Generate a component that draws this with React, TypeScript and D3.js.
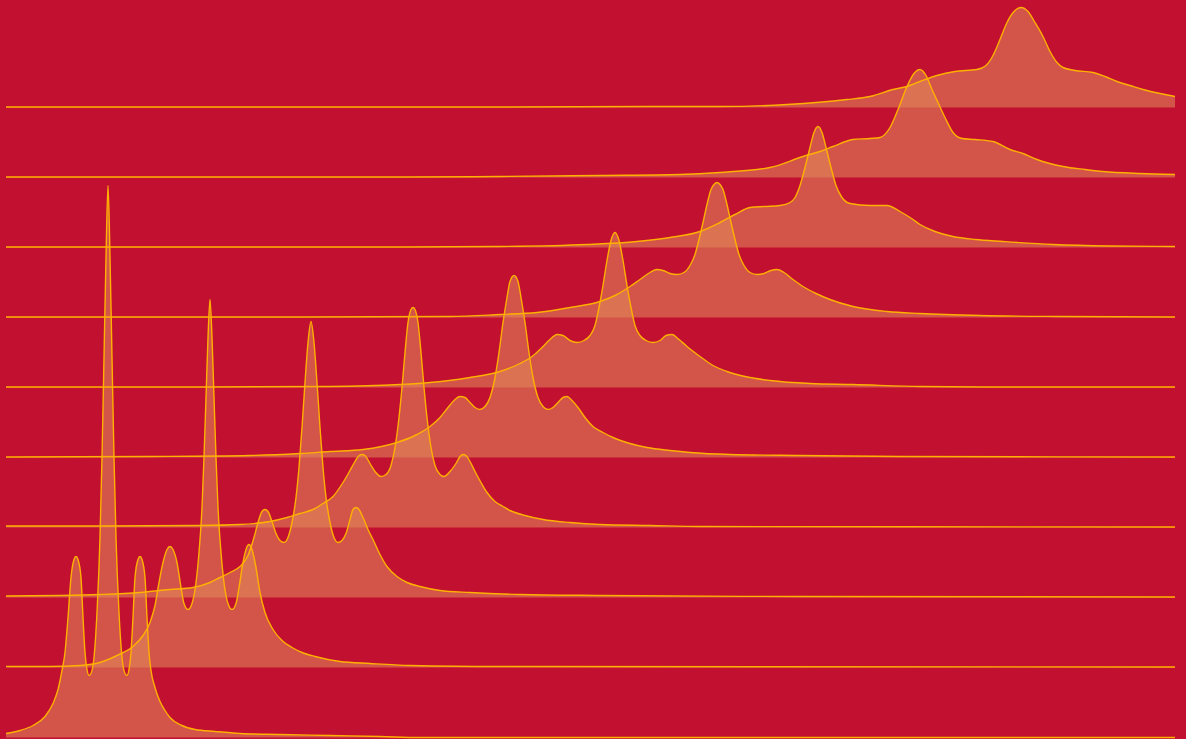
import React from "react";
import * as d3 from "d3";

const W = 1186;
const H = 739;

// ridge names, bottom to top
const ridgeNames = ["r0", "r1", "r2", "r3", "r4", "r5", "r6", "r7", "r8", "r9"];

// [position, height]
const ridge0: [number, number][] = [
  [6, 4], [20, 7], [33, 12], [45, 21], [53, 34], [58, 48], [62, 67], [65, 85], [68, 120], [71, 160], [74, 178], [76, 181],
  [78, 178], [81, 160], [83, 120], [85, 85], [87, 68], [89, 62], [91, 64], [94, 80], [97, 125], [100, 200], [102, 280],
  [104, 380], [106, 480], [108, 552], [110, 480], [112, 380], [114, 280], [116, 200], [119, 125], [122, 80], [125, 64],
  [127, 62], [129, 68], [131, 85], [133, 120], [135, 160], [138, 178], [140, 181], [142, 178], [145, 160], [147, 120],
  [149, 85], [151, 67], [155, 50], [160, 36], [165, 27], [170, 20], [182, 12], [195, 8], [215, 6], [240, 4], [280, 3],
  [330, 2], [380, 1], [420, 0], [1175, 0],
];
const ridge1: [number, number][] = [
  [6, 1], [50, 1], [80, 2], [100, 5], [117, 12], [133, 21], [143, 32], [150, 45], [155, 62], [159, 85], [163, 105],
  [167, 118], [170, 121], [173, 118], [177, 105], [181, 80], [184, 64], [188, 58], [192, 64], [196, 85], [199, 115],
  [202, 160], [204, 210], [206, 270], [208, 330], [210, 368], [212, 330], [214, 270], [216, 210], [218, 160], [221, 115],
  [224, 85], [228, 64], [232, 58], [236, 64], [239, 80], [243, 105], [246, 118], [249, 123], [252, 118], [256, 100],
  [260, 75], [265, 55], [273, 38], [282, 27], [292, 20], [302, 15], [315, 11], [340, 6], [370, 4], [410, 2], [500, 1],
  [1175, 0.5],
];
const ridge2: [number, number][] = [
  [6, 1.5], [60, 2], [100, 3], [140, 5], [170, 8], [193, 10], [210, 15], [220, 20], [230, 25], [240, 31], [248, 42],
  [254, 60], [258, 75], [262, 86], [265, 88], [268, 86], [272, 76], [276, 64], [280, 57], [284, 55], [288, 60], [292, 75],
  [296, 100], [299, 130], [302, 170], [305, 215], [308, 255], [311, 276], [314, 255], [317, 215], [320, 170], [323, 130],
  [326, 100], [330, 75], [334, 60], [338, 55], [342, 57], [346, 64], [350, 78], [353, 88], [356, 90], [359, 88], [363, 80],
  [368, 68], [373, 58], [380, 43], [387, 31], [397, 21], [407, 15], [420, 11], [440, 7], [470, 5], [520, 3], [600, 2],
  [800, 1], [1175, 0.5],
];
const ridge3: [number, number][] = [
  [6, 1.5], [100, 1.5], [200, 2], [240, 3], [270, 6], [287, 10], [300, 14], [313, 18], [323, 24], [333, 31], [343, 45],
  [350, 57], [355, 66], [359, 72], [362, 73], [365, 72], [370, 64], [375, 56], [381, 51], [386, 53], [391, 62], [395, 80],
  [399, 110], [402, 140], [405, 175], [408, 205], [411, 218], [413, 220], [415, 218], [418, 205], [421, 175], [424, 140],
  [427, 110], [431, 80], [435, 62], [440, 53], [444, 51], [450, 56], [456, 64], [460, 71], [463, 73], [466, 72], [470, 66],
  [475, 56], [481, 45], [487, 35], [495, 26], [503, 21], [510, 17], [525, 12], [543, 8], [570, 5], [600, 3], [650, 2],
  [700, 1], [1175, 0.5],
];
const ridge4: [number, number][] = [
  [6, 0.5], [150, 1], [250, 2], [300, 4], [330, 6], [363, 8], [397, 15], [415, 22], [430, 31], [440, 40], [448, 50],
  [454, 57], [460, 61], [465, 60], [470, 55], [475, 50], [480, 48], [485, 51], [490, 60], [495, 80], [499, 105], [503, 135],
  [507, 160], [510, 176], [514, 182], [518, 176], [521, 160], [525, 135], [529, 105], [533, 80], [538, 60], [543, 51],
  [548, 48], [553, 50], [558, 55], [563, 60], [567, 61], [572, 57], [578, 50], [585, 40], [593, 31], [603, 25], [613, 20],
  [630, 14], [647, 10], [670, 7], [690, 5], [730, 3], [800, 2], [900, 1], [1175, 0.5],
];
const ridge5: [number, number][] = [
  [6, 0.5], [200, 0.5], [330, 1], [400, 3], [430, 5], [470, 10], [500, 16], [520, 24], [532, 31], [542, 40], [550, 48],
  [557, 53], [563, 52], [570, 47], [577, 45], [584, 47], [590, 52], [595, 62], [599, 80], [603, 102], [607, 127],
  [611, 147], [615, 155], [619, 147], [623, 127], [627, 102], [631, 80], [635, 62], [640, 52], [646, 47], [653, 45],
  [660, 47], [666, 52], [672, 53], [679, 48], [687, 41], [700, 31], [713, 22], [727, 16], [745, 11], [770, 7], [810, 4],
  [853, 3], [920, 1], [1000, 0.5], [1175, 0.5],
];
const ridge6: [number, number][] = [
  [6, 0.5], [300, 0.5], [450, 1], [500, 3], [537, 5], [570, 10], [600, 16], [615, 22], [630, 31], [640, 38], [650, 45],
  [657, 48], [663, 47], [670, 44], [677, 43], [684, 45], [690, 52], [695, 63], [699, 78], [703, 95], [707, 113],
  [711, 128], [714, 133], [717, 135], [720, 133], [723, 128], [727, 113], [731, 95], [735, 78], [739, 63], [744, 52],
  [750, 45], [757, 43], [764, 44], [771, 47], [777, 48], [784, 45], [793, 38], [803, 31], [816, 24], [830, 18], [853, 11],
  [887, 6], [920, 4], [980, 2], [1060, 1], [1175, 0.5],
];
const ridge7: [number, number][] = [
  [6, 0.5], [400, 0.5], [500, 1], [587, 3], [637, 6], [670, 10], [700, 16], [720, 25], [735, 33], [750, 40], [765, 41],
  [780, 42], [790, 45], [795, 50], [800, 62], [805, 80], [810, 100], [814, 115], [818, 121], [822, 115], [826, 100],
  [831, 80], [836, 62], [842, 50], [850, 44], [870, 42], [887, 42], [900, 36], [910, 30], [920, 23], [935, 16], [953, 11],
  [975, 8], [1003, 6], [1053, 3], [1110, 1.5], [1175, 1],
];
const ridge8: [number, number][] = [
  [6, 0.5], [400, 0.5], [500, 1], [600, 2], [680, 3], [720, 5], [770, 10], [803, 21], [820, 26], [833, 31], [853, 38],
  [870, 39], [880, 40], [890, 50], [898, 68], [907, 91], [914, 104], [920, 108], [926, 102], [932, 88], [938, 75],
  [945, 60], [953, 45], [962, 39], [975, 38], [993, 36], [1010, 28], [1023, 24], [1037, 18], [1063, 11], [1085, 8],
  [1103, 6], [1140, 4], [1175, 3],
];
const ridge9: [number, number][] = [
  [6, 0.5], [500, 0.5], [650, 1], [720, 1], [787, 3], [847, 8], [870, 11], [893, 18], [907, 21], [920, 26], [937, 32],
  [955, 36], [977, 38], [986, 42], [993, 52], [1000, 68], [1007, 85], [1014, 96], [1021, 100], [1028, 96], [1035, 85],
  [1043, 71], [1050, 56], [1057, 45], [1063, 40], [1075, 37], [1093, 35], [1105, 31], [1117, 26], [1130, 22], [1143, 18],
  [1160, 14], [1175, 11],
];

const ridges = [ridge0, ridge1, ridge2, ridge3, ridge4, ridge5, ridge6, ridge7, ridge8, ridge9];

const BG = "#C11030";
const FILL = "rgb(226,140,92)";
const STROKE = "#FFB000";

export default function App() {
  const x = d3.scaleLinear().domain([6, 1175]).range([6, 1175]);
  const base = d3.scalePoint<string>().domain(ridgeNames).range([737.5, 107.5]);
  const hy = d3.scaleLinear().domain([0, 600]).range([0, 600]);

  const order = ridgeNames.map((n, i) => i).reverse();

  const paths = order.map((i) => {
    const b = base(ridgeNames[i]) as number;
    const area = d3
      .area<[number, number]>()
      .x((d) => x(d[0]))
      .y0(b)
      .y1((d) => Math.min(b, b - hy(d[1])))
      .curve(d3.curveMonotoneX);
    const line = d3
      .line<[number, number]>()
      .x((d) => x(d[0]))
      .y((d) => b - hy(d[1]))
      .curve(d3.curveMonotoneX);
    return { i, area: area(ridges[i]) || "", line: line(ridges[i]) || "" };
  });

  return (
    <svg
      width={W}
      height={H}
      style={{ position: "absolute", left: 0, top: 0, display: "block" }}
    >
      <rect x={0} y={0} width={W} height={H} fill={BG} />
      <g>
        {paths.map((p) => (
          <path key={"a" + p.i} d={p.area} fill={FILL} fillOpacity={0.55} stroke="none" />
        ))}
      </g>
      <g>
        {paths.map((p) => (
          <path key={"l" + p.i} d={p.line} fill="none" stroke={STROKE} strokeWidth={1.4} strokeLinejoin="round" />
        ))}
      </g>
    </svg>
  );
}
